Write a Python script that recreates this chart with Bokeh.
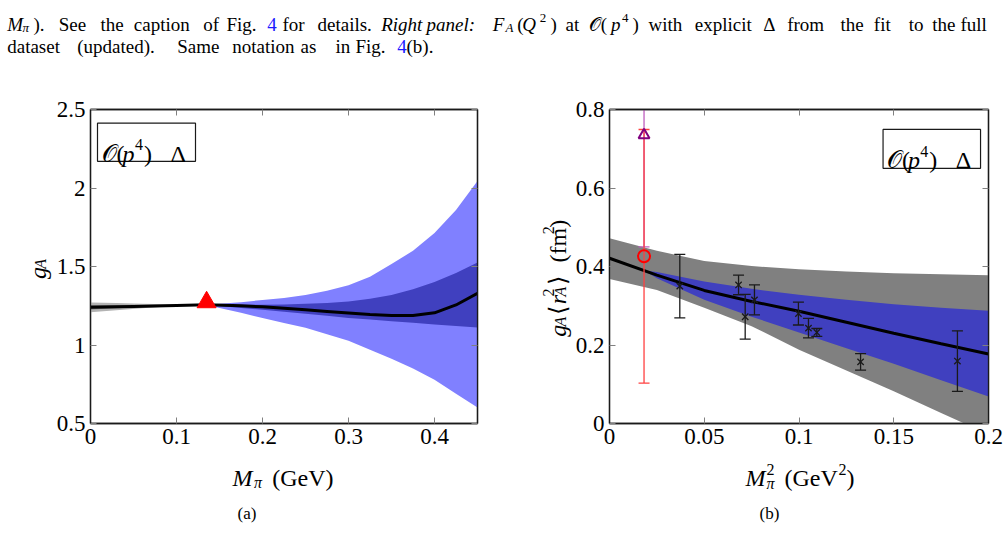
import math
from bokeh.plotting import figure
from bokeh.models import Range1d, LinearAxis, FixedTicker, Label, BoxAnnotation
from bokeh.layouts import column, row
from bokeh.embed import file_html
from bokeh.resources import INLINE

FONT = "Liberation Serif"

# ---------------- data: left panel (g_A vs M_pi) ----------------
MPI_PHYS = 0.135
GA_PHYS = 1.2723

l_x_ticks = [0.0, 0.1, 0.2, 0.3, 0.4]
l_x_labels = ["0", "0.1", "0.2", "0.3", "0.4"]
l_y_ticks = [0.5, 1.0, 1.5, 2.0, 2.5]
l_y_labels = ["0.5", "1", "1.5", "2", "2.5"]

l_grey_x = [0.0, 0.03, 0.06, 0.09, 0.12, 0.135]
l_grey_outer_lo = [1.208, 1.222, 1.234, 1.245, 1.253, 1.256]
l_grey_outer_hi = [1.271, 1.267, 1.263, 1.259, 1.257, 1.256]
l_grey_inner_lo = [1.226, 1.234, 1.241, 1.248, 1.254, 1.256]
l_grey_inner_hi = [1.254, 1.254, 1.255, 1.255, 1.256, 1.256]

l_band_x = [0.135, 0.15, 0.175, 0.2, 0.225, 0.25, 0.275, 0.3, 0.325, 0.35, 0.375, 0.4, 0.425, 0.45]
l_outer_hi = [1.256, 1.262, 1.272, 1.287, 1.300, 1.318, 1.345, 1.380, 1.435, 1.516, 1.600, 1.713, 1.860, 2.045]
l_outer_lo = [1.256, 1.235, 1.205, 1.172, 1.140, 1.110, 1.068, 1.027, 0.970, 0.913, 0.850, 0.778, 0.690, 0.602]
l_inner_hi = [1.256, 1.256, 1.256, 1.256, 1.258, 1.262, 1.268, 1.277, 1.295, 1.318, 1.355, 1.402, 1.458, 1.526]
l_inner_lo = [1.256, 1.248, 1.236, 1.224, 1.212, 1.199, 1.186, 1.172, 1.162, 1.152, 1.141, 1.131, 1.121, 1.111]

l_curve_x = [0.0, 0.05, 0.1, 0.135, 0.175, 0.2, 0.225, 0.25, 0.275, 0.3, 0.325, 0.35, 0.375, 0.4, 0.425, 0.45]
l_curve_y = [1.240, 1.246, 1.252, 1.256, 1.250, 1.243, 1.234, 1.224, 1.214, 1.204, 1.194, 1.188, 1.188, 1.205, 1.255, 1.329]

# ---------------- data: right panel (g_A <r_A^2> vs M_pi^2) ----------------
r_x_ticks = [0.0, 0.05, 0.1, 0.15, 0.2]
r_x_labels = ["0", "0.05", "0.1", "0.15", "0.2"]
r_y_ticks = [0.0, 0.2, 0.4, 0.6, 0.8]
r_y_labels = ["0", "0.2", "0.4", "0.6", "0.8"]

r_x = [0.0, 0.025, 0.05, 0.075, 0.1, 0.125, 0.15, 0.175, 0.2]
r_curve = [0.421, 0.378, 0.339, 0.311, 0.286, 0.258, 0.230, 0.203, 0.177]
r_grey_hi = [0.472, 0.440, 0.414, 0.401, 0.393, 0.387, 0.383, 0.380, 0.378]
r_grey_lo = [0.368, 0.340, 0.295, 0.248, 0.188, 0.135, 0.082, 0.027, -0.028]
r_blue_x = [0.0182, 0.025, 0.05, 0.075, 0.1, 0.125, 0.15, 0.175, 0.2]
r_blue_hi = [0.390, 0.386, 0.362, 0.343, 0.328, 0.315, 0.304, 0.295, 0.287]
r_blue_lo = [0.390, 0.370, 0.315, 0.272, 0.232, 0.192, 0.152, 0.110, 0.069]

lat_x = [0.0371, 0.0681, 0.0716, 0.0765, 0.0997, 0.1050, 0.1094, 0.1325, 0.1836]
lat_y = [0.350, 0.353, 0.272, 0.315, 0.280, 0.243, 0.232, 0.157, 0.159]
lat_err = [0.081, 0.025, 0.057, 0.038, 0.029, 0.025, 0.010, 0.021, 0.077]

phys_red_y, phys_red_err = 0.426, 0.323
phys_purple_y, phys_purple_err = 0.735, 0.285

# ---------------- layout constants (pixels) ----------------
H_TOP = 60           # caption strip
H_ROW = 398          # panels row
H_BOT = 546 - H_TOP - H_ROW
W_SL, W_P1, W_SR, W_P2 = 52, 468, 52, 435
TXT = "#000000"
AXC = "#1a1a1a"


def style_axes(p, xticks, xlabels, yticks, ylabels):
    for side in ["below", "left", "above", "right"]:
        isx = side in ("below", "above")
        ticks = xticks if isx else yticks
        labels = xlabels if isx else ylabels
        show = side in ("below", "left")
        ax = LinearAxis(ticker=FixedTicker(ticks=ticks))
        ax.major_label_overrides = {t: (l if show else "") for t, l in zip(ticks, labels)}
        ax.major_tick_in = 6
        ax.major_tick_out = 0
        ax.minor_tick_in = 0
        ax.minor_tick_out = 0
        ax.major_tick_line_color = "#808080"
        ax.major_tick_line_width = 1
        ax.axis_line_color = AXC
        ax.axis_line_width = 1.3
        ax.major_label_text_font = FONT
        ax.major_label_text_font_size = "23px" if show else "0px"
        ax.major_label_text_color = TXT
        ax.major_label_standoff = 5 if show else 0
        p.add_layout(ax, side)


def make_fig(width, xr, yr, bl, bt, fw, fh):
    p = figure(width=width, height=H_ROW, x_range=Range1d(*xr), y_range=Range1d(*yr),
               x_axis_type=None, y_axis_type=None, title_location=None,
               output_backend="svg", toolbar_location=None,
               min_border_left=bl, min_border_top=bt,
               min_border_right=width - bl - fw, min_border_bottom=H_ROW - bt - fh)
    p.outline_line_color = AXC
    p.outline_line_width = 1.3
    p.grid.visible = False
    p.background_fill_color = "white"
    p.border_fill_color = "white"
    return p


def make_strip(w, h):
    s = figure(width=w, height=h, x_range=Range1d(0, w), y_range=Range1d(h, 0),
               x_axis_type=None, y_axis_type=None, title_location=None,
               output_backend="svg", toolbar_location=None, min_border=0)
    s.outline_line_color = None
    s.grid.visible = False
    s.background_fill_color = "white"
    s.border_fill_color = "white"
    return s


def put(p, fx, fy, text, px, py, size=24, italic=False, color=TXT, angle=0.0):
    p.add_layout(Label(x=fx(px), y=fy(py), text=text, text_font=FONT,
                       text_font_size=f"{size}px",
                       text_font_style="italic" if italic else "normal",
                       text_color=color, angle=angle,
                       text_align="left", text_baseline="alphabetic"))


def legend_box(p, fx, fy, dx, dy):
    p.add_layout(BoxAnnotation(left=fx(97 + dx), right=fx(195 + dx), top=fy(116 + dy),
                               bottom=fy(155 + dy), fill_color="white", fill_alpha=1.0,
                               line_color=AXC, line_alpha=1.0, line_width=1.2))
    put(p, fx, fy, "𝒪", 101 + dx, 147 + dy)
    put(p, fx, fy, "(", 116 + dx, 147 + dy)
    put(p, fx, fy, "p", 122 + dx, 147 + dy, italic=True)
    put(p, fx, fy, "4", 134.5 + dx, 138 + dy, size=16)
    put(p, fx, fy, ")", 143.5 + dx, 147 + dy)
    put(p, fx, fy, "Δ", 170 + dx, 147 + dy)


# ================= left panel =================
P1_X0 = W_SL
L_BL, L_BT, L_FW, L_FH = 90 - W_SL, 42, 387, 321
p1 = make_fig(W_P1, (0, 0.45), (0.5, 2.5), L_BL, L_BT, L_FW, L_FH)
style_axes(p1, l_x_ticks, l_x_labels, l_y_ticks, l_y_labels)
fx1 = lambda px: (px - P1_X0 - L_BL) / L_FW * 0.45
fy1 = lambda py: 0.5 + (H_TOP + L_BT + L_FH - py) / L_FH * 2.0

p1.varea(x=l_grey_x, y1=l_grey_outer_lo, y2=l_grey_outer_hi, fill_color="#b3b3b3")
p1.varea(x=l_grey_x, y1=l_grey_inner_lo, y2=l_grey_inner_hi, fill_color="#7a7a7a")
p1.varea(x=l_band_x, y1=l_outer_lo, y2=l_outer_hi, fill_color="#8080ff")
p1.varea(x=l_band_x, y1=l_inner_lo, y2=l_inner_hi, fill_color="#4040bf")
p1.line(x=l_curve_x, y=l_curve_y, line_color="black", line_width=3)
p1.scatter(x=[MPI_PHYS], y=[GA_PHYS], marker="triangle", size=19,
           fill_color="red", line_color="red")
legend_box(p1, fx1, fy1, 0, 0)

# ================= right panel =================
P2_X0 = W_SL + W_P1 + W_SR
R_BL, R_BT, R_FW, R_FH = 607 - P2_X0, 49, 381, 315
p2 = make_fig(W_P2, (0, 0.2), (0, 0.8), R_BL, R_BT, R_FW, R_FH)
style_axes(p2, r_x_ticks, r_x_labels, r_y_ticks, r_y_labels)
fx2 = lambda px: (px - P2_X0 - R_BL) / R_FW * 0.2
fy2 = lambda py: (H_TOP + R_BT + R_FH - py) / R_FH * 0.8

p2.varea(x=r_x, y1=r_grey_lo, y2=r_grey_hi, fill_color="#808080")
p2.varea(x=r_blue_x, y1=r_blue_lo, y2=r_blue_hi, fill_color="#4040bf")
p2.line(x=r_x, y=r_curve, line_color="black", line_width=3)

lat_lo = [y - e for y, e in zip(lat_y, lat_err)]
lat_hi = [y + e for y, e in zip(lat_y, lat_err)]
p2.segment(x0=lat_x, y0=lat_lo, x1=lat_x, y1=lat_hi, line_color=AXC, line_width=1.3)
p2.scatter(x=lat_x + lat_x, y=lat_lo + lat_hi, marker="dash", size=11,
           line_color=AXC, line_width=1.3)
p2.scatter(x=lat_x, y=lat_y, marker="x", size=9, line_color=AXC, line_width=1.3)

xp = MPI_PHYS ** 2
pu_lo, pu_hi = phys_purple_y - phys_purple_err, phys_purple_y + phys_purple_err
re_lo, re_hi = phys_red_y - phys_red_err, phys_red_y + phys_red_err
p2.segment(x0=[xp], y0=[pu_lo], x1=[xp], y1=[pu_hi], line_color="#bf5fbf", line_width=1.3)
p2.scatter(x=[xp, xp], y=[pu_lo, pu_hi], marker="dash", size=11, line_color="#bf5fbf", line_width=1.3)
p2.segment(x0=[xp], y0=[re_lo], x1=[xp], y1=[re_hi], line_color="#ff4040", line_width=1.3)
p2.scatter(x=[xp, xp], y=[re_lo, re_hi], marker="dash", size=11, line_color="#ff4040", line_width=1.3)
p2.scatter(x=[xp], y=[phys_purple_y], marker="triangle", size=11, fill_color=None,
           line_color="#800080", line_width=2)
p2.scatter(x=[xp], y=[phys_red_y], marker="circle", size=12, fill_color=None,
           line_color="red", line_width=2)
legend_box(p2, fx2, fy2, 785, 13)

# ================= y-label strips =================
A = math.pi / 2
sL = make_strip(W_SL, H_ROW)
fxl = lambda px: px
fyl = lambda py: py - H_TOP
put(sL, fxl, fyl, "g", 37, 275, italic=True, angle=A)
put(sL, fxl, fyl, "A", 39.5, 262, size=16, italic=True, angle=A)

sR = make_strip(W_SR, H_ROW)
SR_X0 = W_SL + W_P1
fxr = lambda px: px - SR_X0
fyr = fyl
put(sR, fxr, fyr, "g", 557, 348, italic=True, angle=A)
put(sR, fxr, fyr, "A", 560, 335, size=16, italic=True, angle=A)
put(sR, fxr, fyr, "⟨", 557, 320, angle=A)
put(sR, fxr, fyr, "r", 557, 307, italic=True, angle=A)
put(sR, fxr, fyr, "2", 548, 297, size=16, angle=A)
put(sR, fxr, fyr, "A", 560, 297, size=16, italic=True, angle=A)
put(sR, fxr, fyr, "⟩", 557, 283, angle=A)
put(sR, fxr, fyr, "(fm", 557, 254, angle=A)
put(sR, fxr, fyr, "2", 548, 218, size=16, angle=A)
put(sR, fxr, fyr, ")", 557, 210, angle=A)

# ================= bottom strip (x labels, sub-captions) =================
Y_BOT0 = H_TOP + H_ROW
bot = make_strip(1007, H_BOT)
fxb = lambda px: px
fyb = lambda py: py - Y_BOT0
put(bot, fxb, fyb, "M", 232, 477.7, italic=True)
put(bot, fxb, fyb, "π", 253.5, 481.5, size=16, italic=True)
put(bot, fxb, fyb, "(GeV)", 271.7, 477.7)
put(bot, fxb, fyb, "(a)", 237, 513, size=17)

put(bot, fxb, fyb, "M", 745, 477.7, italic=True)
put(bot, fxb, fyb, "2", 766, 469, size=16)
put(bot, fxb, fyb, "π", 766, 483, size=16, italic=True)
put(bot, fxb, fyb, "(GeV", 784, 477.7)
put(bot, fxb, fyb, "2", 838, 469, size=16)
put(bot, fxb, fyb, ")", 846, 477.7)
put(bot, fxb, fyb, "(b)", 759, 513, size=17)

# ================= caption strip =================
cap = make_strip(1007, H_TOP)
ident = lambda v: v
BLUE = "#1a1aff"
line1 = [
    ("M", 6.7, 24, 19, True, None), ("π", 22, 27, 13, True, None), (").", 33, 24, 19, False, None),
    ("See", 58.3, 24, 19, False, None), ("the", 100, 24, 19, False, None),
    ("caption", 133.3, 24, 19, False, None), ("of", 202.7, 24, 19, False, None),
    ("Fig.", 226, 24, 19, False, None), ("4", 266.7, 24, 19, False, BLUE),
    ("for", 282, 24, 19, False, None), ("details.", 317, 24, 19, False, None),
    ("Right", 380.7, 24, 19, True, None), ("panel:", 426, 24, 19, True, None),
    ("F", 492.3, 24, 19, True, None), ("A", 505, 27, 13, True, None),
    ("(", 516.7, 24, 19, False, None), ("Q", 521.7, 24, 19, True, None),
    ("2", 539.3, 17, 13, False, None), (")", 550, 24, 19, False, None),
    ("at", 565, 24, 19, False, None),
    ("𝒪(", 588.3, 24, 19, False, None), ("p", 610.5, 24, 19, True, None),
    ("4", 621.5, 17, 13, False, None), (")", 632, 24, 19, False, None),
    ("with", 648, 24, 19, False, None), ("explicit", 694.3, 24, 19, False, None),
    ("Δ", 762.7, 24, 19, False, None), ("from", 786.7, 24, 19, False, None),
    ("the", 840, 24, 19, False, None), ("fit", 873.3, 24, 19, False, None),
    ("to", 908.3, 24, 19, False, None), ("the", 931.7, 24, 19, False, None),
    ("full", 960, 24, 19, False, None),
]
line2 = [
    ("dataset", 6.7, 45.5, 19, False, None), ("(updated).", 76.7, 45.5, 19, False, None),
    ("Same", 176.7, 45.5, 19, False, None), ("notation", 231.7, 45.5, 19, False, None),
    ("as", 300, 45.5, 19, False, None), ("in", 335, 45.5, 19, False, None),
    ("Fig.", 355, 45.5, 19, False, None), ("4", 396.7, 45.5, 19, False, BLUE),
    ("(b).", 406, 45.5, 19, False, None),
]
for t, x, y, s, it, c in line1 + line2:
    put(cap, ident, ident, t, x, y, size=s, italic=it, color=c or TXT)

layout = column(cap, row(sL, p1, sR, p2, spacing=0), bot, spacing=0)
open("out.html", "w").write(file_html(layout, INLINE))
